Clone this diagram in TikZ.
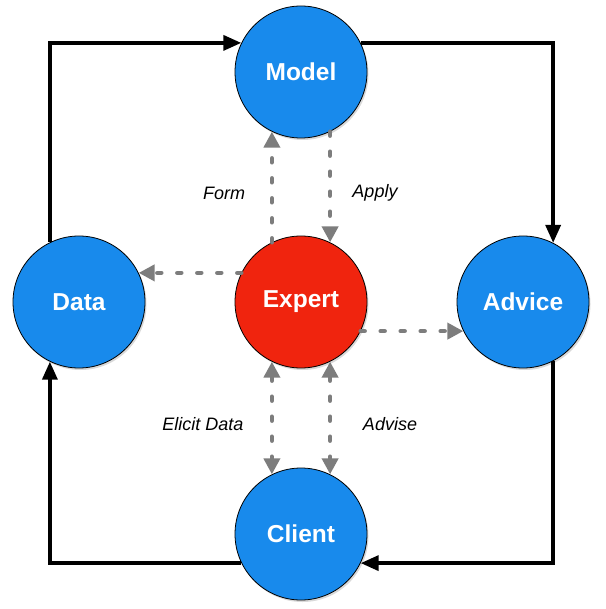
\documentclass[tikz,border=0pt]{standalone}
\usepackage{fontspec}
\setmainfont{Liberation Sans}
\usepackage{tikz}
\usepackage{xcolor}
\usetikzlibrary{arrows.meta,shadows}
\definecolor{roleblue}{RGB}{24,138,236}
\definecolor{rolered}{RGB}{240,36,14}
\definecolor{hintgray}{RGB}{125,125,125}

\begin{document}
\begin{tikzpicture}[x=1pt,y=-1pt,
  role/.style={circle,draw=black,line width=0.8pt,fill=roleblue,minimum size=132pt,inner sep=0pt,
    text=white,font=\fontsize{24.5}{28}\selectfont\bfseries,
    drop shadow={shadow xshift=1.5pt,shadow yshift=-2pt,opacity=0.3}},
  flow/.style={line width=3.5pt,>={Triangle[length=18pt,width=15pt]}},
  hint/.style={hintgray,line width=4.5pt,dash pattern=on 4pt off 16pt,line cap=round,
    >={Triangle[length=16pt,width=16pt]}},
  lbl/.style={font=\fontsize{18}{22}\selectfont\itshape}]
\useasboundingbox (0,0) rectangle (605,609);
\node[role] (model) at (301,72) {Model};
\node[role] (data) at (79,302) {Data};
\node[role,fill=rolered] (expert) at (301,302) {Expert};
\node[role] (advice) at (523,302) {Advice};
\node[role] (client) at (301,534) {Client};
% outer loop
\draw[flow,->] (data.116) |- (model.154);
\draw[flow,->] (model.26) -| (advice.63);
\draw[flow,->] (advice.-63) |- (client.-26);
\draw[flow,->] (client.206) -| (data.244);
% expert links
\draw[hint,->] (expert.116) -- (model.244);
\draw[hint,->] (model.296) -- (expert.64);
\draw[hint,->] (expert.154) -- (data.26);
\draw[hint,->] (expert.-26) -- (advice.206);
\draw[hint,<->] (expert.244) -- (client.116);
\draw[hint,<->] (expert.296) -- (client.64);
\node[lbl] (form) at (224,193) {Form};
\node[lbl] (apply) at (375,193) {Apply};
\node[lbl] (elicit) at (203,424) {Elicit Data};
\node[lbl] (advise) at (390,424) {Advise};
\end{tikzpicture}
\end{document}
